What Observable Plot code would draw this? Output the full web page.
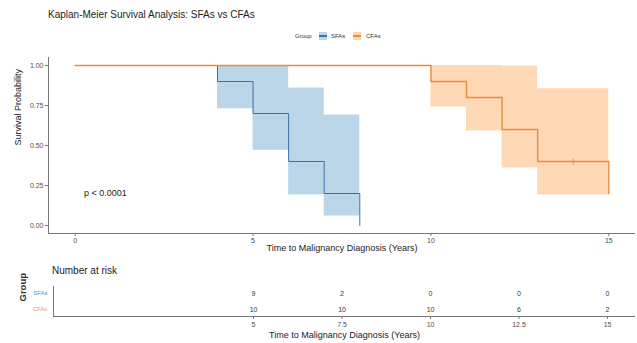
<!DOCTYPE html>
<html>
<head>
<meta charset="utf-8">
<script src="https://cdn.jsdelivr.net/npm/d3@7"></script>
<script src="https://cdn.jsdelivr.net/npm/@observablehq/plot@0.6"></script>
<style>
  body { margin: 0; background: #fff; font-family: "Liberation Sans", Arial, sans-serif; }
  #chart { position: relative; width: 637px; height: 343px; overflow: hidden; background: #fff; }
  #head { position: relative; height: 50px; }
  #title { position: absolute; left: 48px; top: 9px; font-size: 10px; color: #222; white-space: nowrap; }
  .lg { position: absolute; top: 32px; font-size: 6px; color: #333; line-height: 9px; white-space: nowrap; }
  .key { position: absolute; top: 32px; width: 8px; height: 8px; }
  #riskTitle { position: relative; height: 18px; }
  #riskTitle span { position: absolute; left: 52px; top: 3px; font-size: 10px; color: #222; line-height: 12px; }
  svg { display: block; }
</style>
</head>
<body>
<div id="chart">
  <div id="head">
    <div id="title">Kaplan-Meier Survival Analysis: SFAs vs CFAs</div>
    <div class="lg" style="left:295px">Group</div>
    <div class="key" id="keyS" style="left:319px"></div>
    <div class="lg" style="left:331px">SFAs</div>
    <div class="key" id="keyC" style="left:353px"></div>
    <div class="lg" style="left:366px">CFAs</div>
  </div>
  <div id="main"></div>
  <div id="riskTitle"><span>Number at risk</span></div>
  <div id="risk"></div>
</div>
<script>
// ---- data ----
const groups = ["SFAs", "CFAs"];

const sfaTime  = [0, 4, 5, 6, 7, 8];
const sfaSurv  = [1, 0.9, 0.7, 0.4, 0.2, 0];
const sfaLower = [1, 0.73, 0.47, 0.19, 0.06, 0.06];
const sfaUpper = [1, 1, 1, 0.86, 0.69, 0.69];

const cfaTime  = [0, 10, 11, 12, 13, 15];
const cfaSurv  = [1, 0.9, 0.8, 0.6, 0.4, 0.2];
const cfaLower = [1, 0.74, 0.59, 0.36, 0.19, 0.19];
const cfaUpper = [1, 1, 1, 0.995, 0.855, 0.855];

const cfaCensorTime = [14];
const cfaCensorSurv = [0.4];

const xTicks = [0, 5, 10, 15];
const yTicks = [0, 0.25, 0.5, 0.75, 1];

const riskTimes = [5, 7.5, 10, 12.5, 15];
const riskTickLabels = ["5", "7.5", "10", "12.5", "15"];
const sfaRisk = [9, 2, 0, 0, 0];
const cfaRisk = [10, 10, 10, 6, 2];

const pLabel = "p < 0.0001";
const xTitle = "Time to Malignancy Diagnosis (Years)";
const yTitle = "Survival Probability";

// ---- styles ----
const lineColors = ["#3a70a6", "#e98b3a"];
const labelColors = ["#5b93c9", "#f0a060"];
const fillColors = ["#1f77b4", "#ff7f0e"];
const axisColor = "#777";
const font = "'Liberation Sans', Arial, sans-serif";

document.getElementById("keyS").style.background =
  `linear-gradient(to bottom, #bcd5ea 0, #bcd5ea 43%, ${lineColors[0]} 43%, ${lineColors[0]} 57%, #bcd5ea 57%)`;
document.getElementById("keyC").style.background =
  `linear-gradient(to bottom, #fed6b2 0, #fed6b2 43%, ${lineColors[1]} 43%, ${lineColors[1]} 57%, #fed6b2 57%)`;

const mk = (t, s, lo, hi, g) => t.map((d, i) => ({time: d, surv: s[i], lower: lo[i], upper: hi[i], group: g}));
const sfa = mk(sfaTime, sfaSurv, sfaLower, sfaUpper, "SFAs");
const cfa = mk(cfaTime, cfaSurv, cfaLower, cfaUpper, "CFAs");
const censor = cfaCensorTime.map((t, i) => ({time: t, surv: cfaCensorSurv[i]}));

const xMin = -0.75, xMax = 15.75, yMin = -0.05, yMax = 1.05;

const main = Plot.plot({
  width: 637, height: 212,
  marginLeft: 48, marginRight: 2, marginTop: 7, marginBottom: 29,
  x: {domain: [xMin, xMax]},
  y: {domain: [yMin, yMax]},
  style: {fontFamily: font, fontSize: "7px", color: "#4d4d4d", background: "white", overflow: "visible"},
  marks: [
    Plot.areaY(sfa, {x: "time", y1: "lower", y2: "upper", curve: "step-after", fill: fillColors[0], fillOpacity: 0.3}),
    Plot.areaY(cfa, {x: "time", y1: "lower", y2: "upper", curve: "step-after", fill: fillColors[1], fillOpacity: 0.3}),
    Plot.lineY(sfa, {x: "time", y: "surv", curve: "step-after", stroke: lineColors[0], strokeWidth: 1}),
    Plot.lineY(cfa, {x: "time", y: "surv", curve: "step-after", stroke: lineColors[1], strokeWidth: 1.4}),
    Plot.dot(censor, {x: "time", y: "surv", symbol: "plus", r: 2, stroke: lineColors[1], strokeWidth: 1}),
    Plot.text([pLabel], {x: 0.25, y: 0.2, text: d => d, textAnchor: "start", fontSize: 9, fill: "#222"}),
    Plot.ruleX([xMin], {stroke: axisColor}),
    Plot.ruleY([yMin], {stroke: axisColor}),
    Plot.axisX({ticks: xTicks, tickSize: 3, tickPadding: 2, tickFormat: d => String(d), label: null, stroke: axisColor}),
    Plot.axisY({ticks: yTicks, tickSize: 3, tickPadding: 2, tickFormat: d3.format(".2f"), label: null, stroke: axisColor}),
    Plot.text([xTitle], {frameAnchor: "bottom", dy: 17, fontSize: 9, fill: "#222"}),
    Plot.text([yTitle], {frameAnchor: "left", dx: -30, rotate: -90, fontSize: 9, fill: "#222"})
  ]
});
document.getElementById("main").appendChild(main);

// ---- risk table ----
const riskRows = [];
riskTimes.forEach((t, i) => {
  riskRows.push({time: t, group: "SFAs", n: sfaRisk[i]});
  riskRows.push({time: t, group: "CFAs", n: cfaRisk[i]});
});
const rxMin = -0.65, rxMax = 15.79, ryBottom = 1.4375, ryTop = -0.4375;

const risk = Plot.plot({
  width: 637, height: 63,
  marginLeft: 53, marginRight: 2, marginTop: 6, marginBottom: 27,
  x: {domain: [rxMin, rxMax]},
  y: {domain: [ryBottom, ryTop], axis: null},
  color: {domain: groups, range: labelColors},
  style: {fontFamily: font, fontSize: "7px", color: "#4d4d4d", background: "white", overflow: "visible"},
  marks: [
    Plot.text(riskRows, {x: "time", y: d => groups.indexOf(d.group), text: d => String(d.n), fontSize: 7, fill: "#333"}),
    Plot.text(groups, {frameAnchor: "left", y: d => groups.indexOf(d), text: d => d, fill: d => d, textAnchor: "end", dx: -6, fontSize: 6}),
    Plot.text(["Group"], {frameAnchor: "left", dx: -31, rotate: -90, fontSize: 9.5, fontWeight: "bold", fill: "#333"}),
    Plot.ruleX([rxMin], {stroke: axisColor}),
    Plot.ruleY([ryBottom], {stroke: axisColor}),
    Plot.axisX({ticks: riskTimes, tickSize: 3, tickPadding: 3, tickFormat: d => riskTickLabels[riskTimes.indexOf(d)], label: null, stroke: axisColor}),
    Plot.text([xTitle], {frameAnchor: "bottom", dy: 21, fontSize: 9, fill: "#222"})
  ]
});
document.getElementById("risk").appendChild(risk);
</script>
</body>
</html>
